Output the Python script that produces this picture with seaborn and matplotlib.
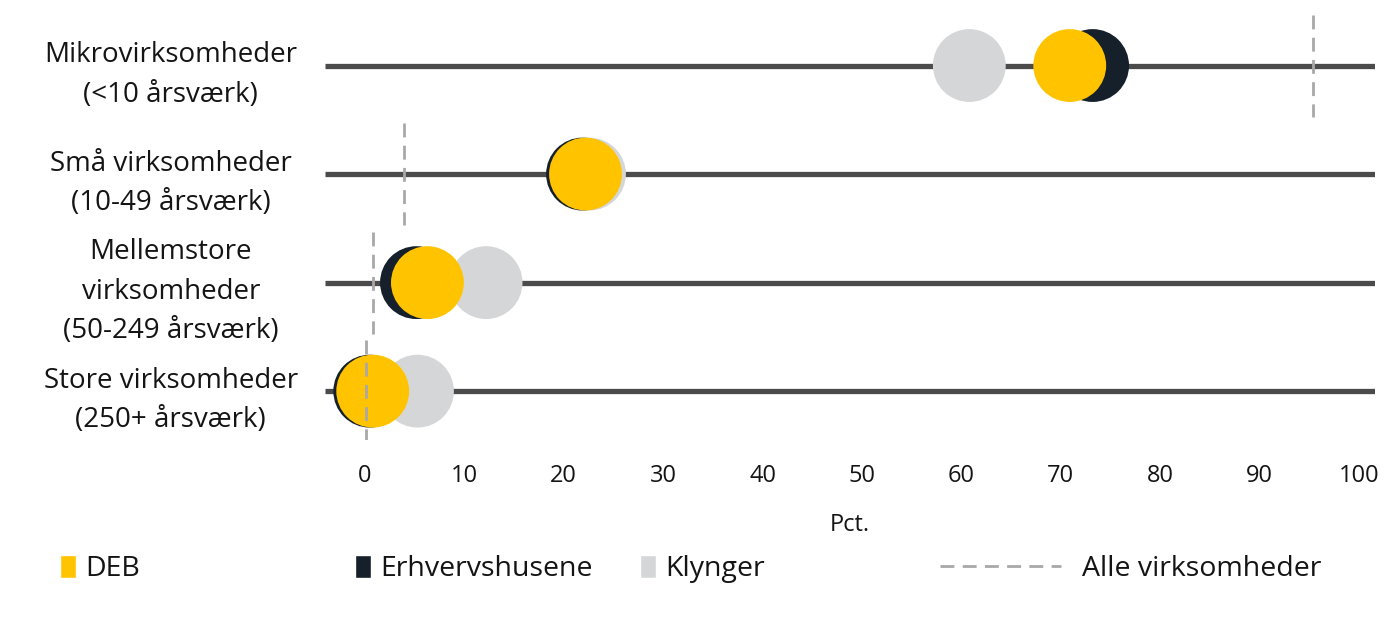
import matplotlib
matplotlib.use("Agg")
import matplotlib.pyplot as plt
from matplotlib.patches import Patch
from matplotlib.lines import Line2D
import pandas as pd
import seaborn as sns

# ── data ──
categories = [
    "Mikrovirksomheder\n(<10 årsværk)",
    "Små virksomheder\n(10-49 årsværk)",
    "Mellemstore\nvirksomheder\n(50-249 årsværk)",
    "Store virksomheder\n(250+ årsværk)",
]
deb = [70.9, 22.2, 6.3, 0.8]
erhvervshusene = [73.2, 21.9, 5.2, 0.5]
klynger = [60.8, 22.6, 12.2, 5.3]
alle_virksomheder = [95.4, 3.9, 0.8, 0.1]
x_ticks = [0, 10, 20, 30, 40, 50, 60, 70, 80, 90, 100]

colors = {"DEB": "#FFC300", "Erhvervshusene": "#15202B", "Klynger": "#D5D6D8"}
LINE_COL = "#4B4B4B"
DASH_COL = "#A8A8A8"
TXT = "#141414"

# back to front: Klynger, Erhvervshusene, DEB
rows = []
for name, vals in [("Klynger", klynger), ("Erhvervshusene", erhvervshusene), ("DEB", deb)]:
    for cat, v in zip(categories, vals):
        rows.append({"kategori": cat, "pct": v, "serie": name})
df = pd.DataFrame(rows)

sns.set_theme(style="white")
plt.rcParams["font.family"] = ["Open Sans", "DejaVu Sans"]

fig = plt.figure(figsize=(13.87, 6.17), dpi=100)
ax = fig.add_axes([325 / 1387, 1 - 440 / 617, 1050 / 1387, 432 / 617])

ypos = list(range(len(categories)))
ax.hlines(ypos, -4, 101.6, color=LINE_COL, lw=3.8, zorder=1)

sns.scatterplot(data=df, x="pct", y="kategori", hue="serie",
                palette=colors, s=2750, linewidth=0, legend=False,
                ax=ax, zorder=3)

ax.vlines(alle_virksomheder, [y - 0.47 for y in ypos], [y + 0.47 for y in ypos],
          color=DASH_COL, lw=2, linestyles=(0, (5, 3)), zorder=4)

ax.set_xlim(-4, 101.6)
ax.set_ylim(3.45, -0.53)
ax.set_xticks(x_ticks)
ax.set_yticks(ypos)
ax.set_yticklabels(categories)
for lbl in ax.get_yticklabels():
    lbl.set_ha("center")
    lbl.set_multialignment("center")
    lbl.set_linespacing(1.55)
ax.tick_params(axis="y", length=0, pad=111, labelsize=20, labelcolor=TXT)
ax.tick_params(axis="x", length=0, pad=17, labelsize=17, labelcolor=TXT)
ax.set_xlabel("Pct.", fontsize=17, color=TXT, labelpad=18)
ax.set_ylabel("")
for sp in ax.spines.values():
    sp.set_visible(False)

# ── legend: four entries on a loose grid ──
leg_y = 1 - 569 / 617
entries = [
    (60, Patch(facecolor=colors["DEB"]), "DEB", 0.55, 0.35),
    (355, Patch(facecolor=colors["Erhvervshusene"]), "Erhvervshusene", 0.55, 0.35),
    (640, Patch(facecolor=colors["Klynger"]), "Klynger", 0.55, 0.35),
    (940, Line2D([], [], color=DASH_COL, lw=2, linestyle=(0, (5, 3))), "Alle virksomheder", 4.25, 0.75),
]
for x_px, handle, label, hlen, tpad in entries:
    fig.legend(handles=[handle], labels=[label], loc="center left",
               bbox_to_anchor=(x_px / 1387, leg_y), frameon=False,
               fontsize=20.5, handlelength=hlen, handleheight=0.85,
               handletextpad=tpad, borderpad=0, borderaxespad=0,
               labelcolor=TXT)

fig.savefig("out.png", dpi=100, facecolor="white")
